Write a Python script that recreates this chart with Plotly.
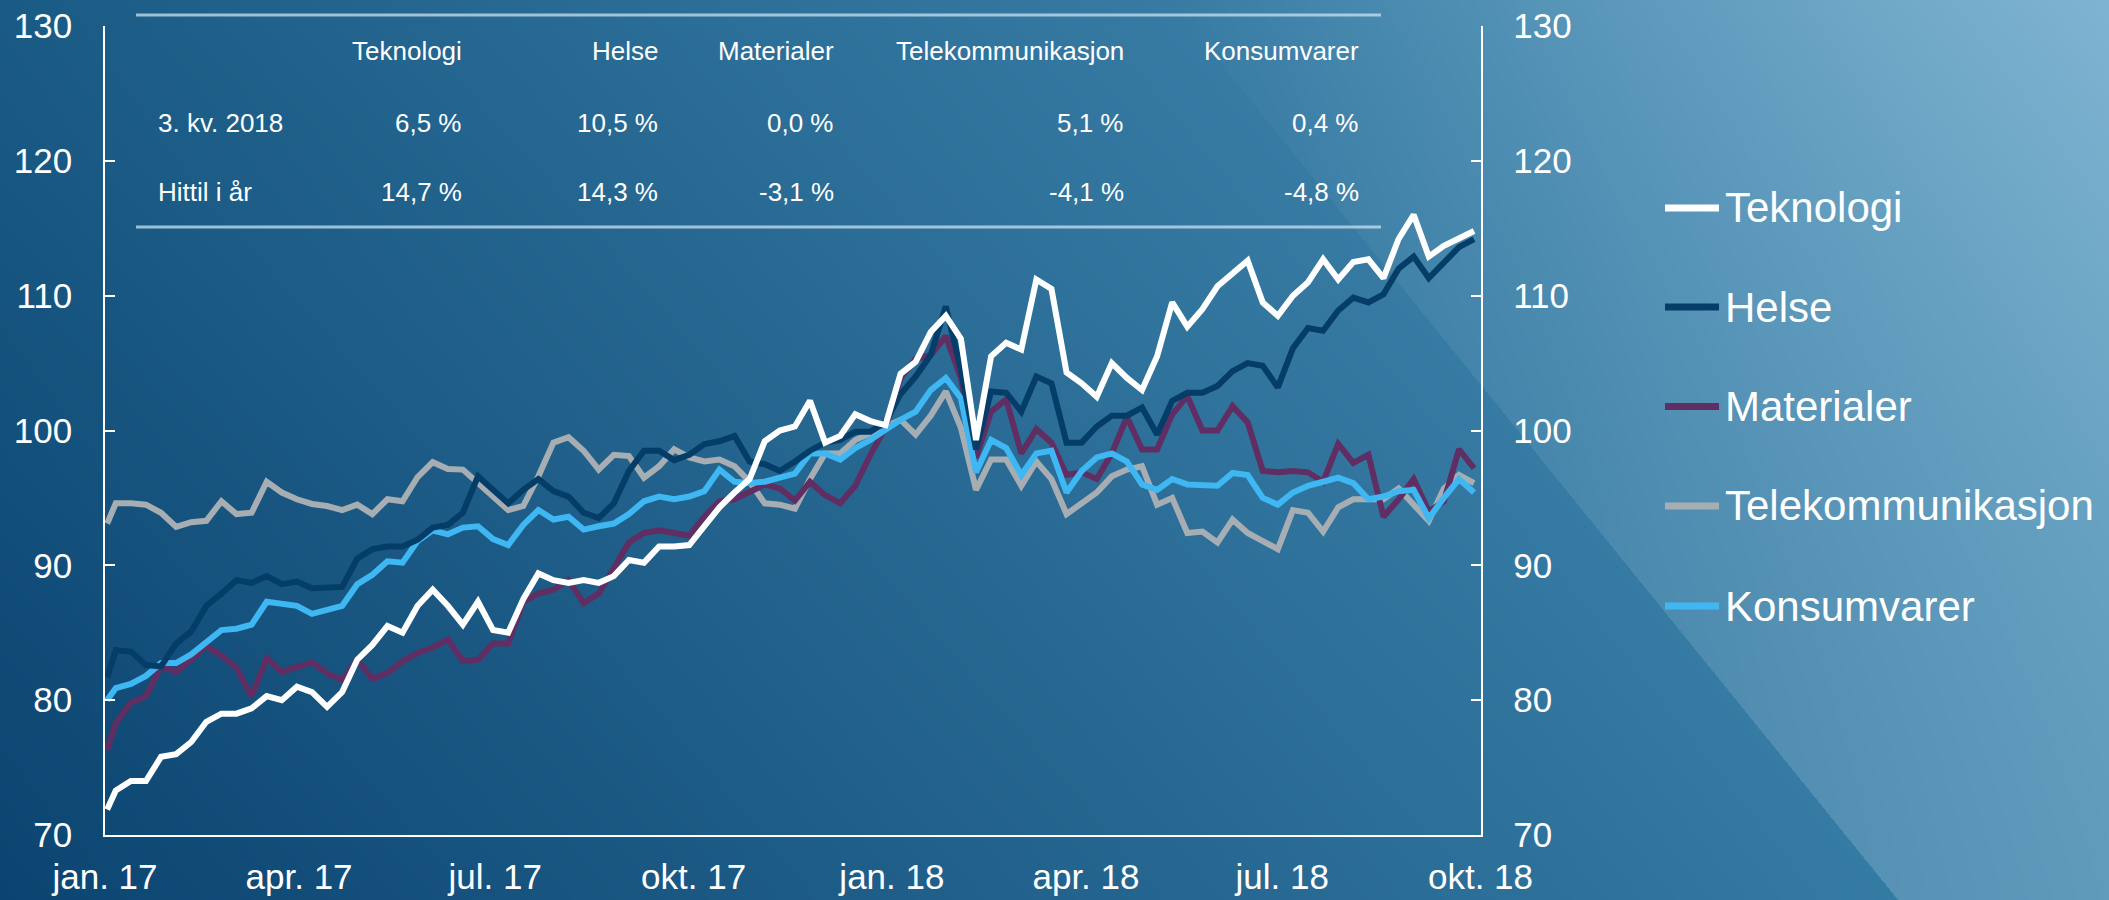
import base64
import struct
import zlib

import numpy as np
import pandas as pd
import plotly.graph_objects as go

# ---------------- data (weekly readings of the index) ----------------
dates = ["2017-01-02"] + [d.strftime("%Y-%m-%d") for d in pd.date_range("2017-01-06", "2018-09-28", freq="7D")]

teknologi = [71.9, 73.3, 74.0, 74.0, 75.8, 76.0, 76.9, 78.4, 79.0, 79.0, 79.4, 80.3, 80.0, 81.0, 80.6, 79.5,
             80.6, 83.0, 84.1, 85.5, 85.0, 87.0, 88.2, 87.0,
             85.6, 87.3, 85.2, 85.0, 87.5, 89.4, 88.9, 88.7, 88.9, 88.7, 89.2, 90.4, 90.2, 91.4, 91.4, 91.5,
             92.9, 94.3, 95.4, 96.4, 99.2, 100.0, 100.3,
             102.2, 99.1, 99.6, 101.2, 100.7, 100.4, 104.2, 105.1, 107.3, 108.5, 106.8, 99.3, 105.5, 106.5,
             106.0, 111.2, 110.5, 104.3, 103.5, 102.5, 105.0, 103.9, 103.0,
             105.5, 109.5, 107.7, 109.0, 110.7, 111.7, 112.6, 109.5, 108.5, 110.0, 111.0, 112.7, 111.2, 112.5,
             112.7, 111.3, 114.2, 116.0, 112.9, 113.7, 114.2, 114.8]

helse = [81.7, 83.7, 83.6, 82.6, 82.5, 84.2, 85.1, 87.0, 87.9, 88.9, 88.7, 89.2, 88.6, 88.8, 88.3, 88.3,
         88.4, 90.5, 91.2, 91.4, 91.4, 91.9, 92.8, 93.0,
         93.9, 96.6, 95.6, 94.6, 95.6, 96.4, 95.5, 95.1, 93.9, 93.5, 94.6, 97.0, 98.5, 98.5, 97.8, 98.2,
         99.0, 99.2, 99.6, 97.7, 97.5, 97.0, 97.7,
         98.5, 99.1, 99.3, 99.9, 99.9, 100.6, 102.7, 104.0, 105.6, 109.2, 104.5, 98.6, 102.9, 102.8,
         101.4, 104.0, 103.5, 99.1, 99.1, 100.3, 101.1, 101.1, 101.7,
         99.7, 102.2, 102.8, 102.8, 103.3, 104.4, 105.0, 104.8, 103.2, 106.1, 107.6, 107.4, 108.9, 109.85,
         109.5, 110.1, 112.0, 112.9, 111.3, 112.45, 113.6, 114.2]

materialer = [76.3, 78.3, 79.8, 80.3, 82.5, 82.1, 83.0, 84.0, 83.3, 82.4, 80.3, 83.1, 82.1, 82.5, 82.8, 82.0,
              81.5, 83.0, 81.6, 82.0, 82.9, 83.5, 83.9, 84.5,
              82.9, 83.0, 84.2, 84.2, 87.3, 87.9, 88.2, 88.9, 87.2, 87.9, 89.9, 91.7, 92.4, 92.6, 92.4, 92.2,
              93.6, 94.75, 94.9, 95.5, 96.0, 95.7, 94.8,
              96.2, 95.2, 94.6, 95.9, 98.2, 100.2, 103.9, 105.3, 105.6, 107.0, 103.9, 98.0, 101.4, 102.3,
              98.3, 100.1, 99.1, 96.7, 96.9, 96.4, 98.3, 101.0, 98.6,
              98.6, 101.2, 102.55, 100.0, 100.0, 101.8, 100.6, 97.0, 96.9, 97.0, 96.9, 96.2, 99.0, 97.6,
              98.2, 93.6, 94.9, 96.4, 94.0, 94.75, 98.6, 97.2]

telekom = [93.1, 94.6, 94.6, 94.5, 93.9, 92.85, 93.2, 93.3, 94.75, 93.8, 93.9, 96.2, 95.4, 94.9, 94.55, 94.4,
           94.1, 94.5, 93.8, 94.9, 94.75, 96.55, 97.65, 97.15,
           97.1, 96.1, 95.0, 94.1, 94.4, 96.6, 99.1, 99.5, 98.5, 97.1, 98.2, 98.1, 96.5, 97.35, 98.6, 98.0,
           97.7, 97.85, 97.35, 96.2, 94.6, 94.5, 94.2,
           96.4, 98.3, 98.3, 99.3, 99.8, 100.2, 100.8, 99.7, 101.1, 102.9, 100.2, 95.6, 97.85, 97.85,
           95.9, 97.7, 96.4, 93.8, 94.6, 95.4, 96.6, 97.1, 97.35,
           94.5, 95.0, 92.4, 92.5, 91.7, 93.4, 92.4, 91.8, 91.2, 94.1, 93.9, 92.5, 94.3, 94.9,
           94.9, 94.9, 95.7, 94.5, 93.3, 95.7, 96.7, 96.1]

konsum = [80.0, 80.9, 81.2, 81.8, 82.75, 82.75, 83.4, 84.35, 85.2, 85.3, 85.6, 87.3, 87.1, 87.0, 86.4, 86.7,
          87.0, 88.6, 89.3, 90.3, 90.2, 91.8, 92.6, 92.3,
          92.8, 92.9, 91.95, 91.5, 93.0, 94.1, 93.4, 93.6, 92.65, 92.9, 93.1, 93.8, 94.75, 95.1, 94.9, 95.1,
          95.5, 97.1, 96.2, 96.1, 96.2, 96.5, 96.8,
          98.3, 98.3, 97.85, 98.7, 99.3, 100.1, 100.8, 101.4, 103.0, 103.9, 102.4, 96.9, 99.3, 98.7,
          96.7, 98.3, 98.5, 95.4, 97.0, 98.0, 98.3, 97.7, 96.0,
          95.6, 96.4, 96.0, 96.0, 95.9, 96.85, 96.7, 95.0, 94.5, 95.4, 95.9, 96.2, 96.5, 96.1,
          94.9, 95.1, 95.5, 95.6, 93.5, 95.0, 96.4, 95.4]

series_names = ["Teknologi", "Helse", "Materialer", "Telekommunikasjon", "Konsumvarer"]
series_values = [teknologi, helse, materialer, telekom, konsum]
series_colors = ["#ffffff", "#033d68", "#612e63", "#a7aeb3", "#3fb7f2"]

table_columns = ["Teknologi", "Helse", "Materialer", "Telekommunikasjon", "Konsumvarer"]
table_row_labels = ["3. kv. 2018", "Hittil i år"]
table_q3 = ["6,5 %", "10,5 %", "0,0 %", "5,1 %", "0,4 %"]
table_ytd = ["14,7 %", "14,3 %", "-3,1 %", "-4,1 %", "-4,8 %"]

x_tickvals = ["2017-01-01", "2017-04-01", "2017-07-01", "2017-10-01",
              "2018-01-01", "2018-04-01", "2018-07-01", "2018-10-01"]
x_ticktext = ["jan. 17", "apr. 17", "jul. 17", "okt. 17", "jan. 18", "apr. 18", "jul. 18", "okt. 18"]
y_tickvals = [70, 80, 90, 100, 110, 120, 130]

for v in series_values:
    assert len(v) == len(dates), (len(v), len(dates))

# ---------------- layout geometry (pixels) ----------------
W, H = 2109, 900
PX_L, PX_R = 105, 1480.5
PX_T, PX_B = 26, 835
FONT = "Arial, 'Liberation Sans', sans-serif"


def px(x):
    return x / W


def py(y):
    return 1 - y / H


# ---------------- background image ----------------
def make_background():
    yy, xx = np.mgrid[0:H, 0:W].astype(np.float64)
    u = xx / (W - 1)
    v = yy / (H - 1)
    TL = np.array([26, 91, 133.0])
    TR = np.array([78, 149, 188.0])
    BL = np.array([11, 68, 112.0])
    BR = np.array([57, 129, 169.0])
    top = TL[None, None, :] * (1 - u)[..., None] + TR[None, None, :] * u[..., None]
    bot = BL[None, None, :] * (1 - u)[..., None] + BR[None, None, :] * u[..., None]
    img = top * (1 - v)[..., None] + bot * v[..., None]
    # light diagonal panel on the right, fading out towards the top of its edge
    edge_x = 1169 + 0.81 * yy
    d = (xx - edge_x) / np.sqrt(1 + 0.81 ** 2)
    frac = np.clip(d / 730.0, 0, 1)
    a_edge = 0.20 * np.clip(yy / 900.0, 0, 1)
    alpha = np.where(d > 0, a_edge + (0.34 - a_edge) * frac, 0.0)
    over = np.array([225, 240, 250.0])
    img = img * (1 - alpha[..., None]) + over[None, None, :] * alpha[..., None]
    arr = np.clip(np.round(img), 0, 255).astype(np.int16)
    flat = arr.reshape(H, W * 3)
    sub = flat.copy()
    sub[:, 3:] = (flat[:, 3:] - flat[:, :-3]) % 256
    sub = sub.astype(np.uint8)
    raw = b"".join(b"\x01" + sub[i].tobytes() for i in range(H))

    def chunk(tag, data):
        c = struct.pack(">I", len(data)) + tag + data
        return c + struct.pack(">I", zlib.crc32(tag + data) & 0xFFFFFFFF)

    png = (b"\x89PNG\r\n\x1a\n"
           + chunk(b"IHDR", struct.pack(">IIBBBBB", W, H, 8, 2, 0, 0, 0))
           + chunk(b"IDAT", zlib.compress(raw, 9))
           + chunk(b"IEND", b""))
    return "data:image/png;base64," + base64.b64encode(png).decode()


bg_uri = make_background()

# ---------------- figure ----------------
fig = go.Figure()

draw_order = [3, 2, 4, 1, 0]  # Telekom, Materialer, Konsum, Helse, Teknologi (top)
for i in draw_order:
    fig.add_trace(go.Scatter(
        x=dates, y=series_values[i], name=series_names[i], mode="lines",
        line=dict(color=series_colors[i], width=6),
        hoverinfo="skip", showlegend=False,
    ))
fig.add_trace(go.Scatter(x=[dates[0]], y=[None], yaxis="y2", showlegend=False, hoverinfo="skip"))

axis_common = dict(
    showgrid=False, zeroline=False, showline=True, linecolor="white", linewidth=1.5, automargin=False,
)
yaxis_common = dict(
    **axis_common,
    range=[70, 130], tickmode="array", tickvals=y_tickvals,
    ticks="inside", ticklen=10, tickcolor="white", tickwidth=1.5,
    tickfont=dict(size=35, color="white", family=FONT),
    ticklabelstandoff=24,
)
fig.update_layout(
    template="none",
    width=W, height=H, autosize=False,
    margin=dict(l=0, r=0, t=0, b=0, pad=0, autoexpand=False),
    paper_bgcolor="#0b4470",
    plot_bgcolor="rgba(0,0,0,0)",
    showlegend=False,
    font=dict(family=FONT, color="white"),
    xaxis=dict(
        **axis_common,
        type="date", domain=[px(PX_L), px(PX_R)],
        range=["2017-01-01", "2018-10-01"],
        tickmode="array", tickvals=x_tickvals, ticktext=x_ticktext,
        ticks="", tickfont=dict(size=35, color="white", family=FONT),
        ticklabelstandoff=10,
    ),
    yaxis=dict(**yaxis_common, domain=[1 - PX_B / H, 1 - PX_T / H]),
    yaxis2=dict(**yaxis_common, overlaying="y", side="right", anchor="x"),
    images=[dict(source=bg_uri, xref="paper", yref="paper", x=0, y=1, sizex=1, sizey=1,
                 xanchor="left", yanchor="top", sizing="stretch", layer="below")],
)

shapes = []
annotations = []

# ---- table ----
TABLE_X0, TABLE_X1 = 136, 1381
for yline in (15, 227):
    shapes.append(dict(type="line", xref="paper", yref="paper", x0=px(TABLE_X0), x1=px(TABLE_X1),
                       y0=py(yline), y1=py(yline), line=dict(color="rgba(200,225,240,0.75)", width=3)))
col_right = [464, 660, 836, 1126, 1361]
row_y = [123, 192]
header_y = 51
for c, name in enumerate(table_columns):
    annotations.append(dict(text=name, x=px(col_right[c]), y=py(header_y), xref="paper", yref="paper",
                            xanchor="right", yanchor="middle", showarrow=False,
                            font=dict(size=26, color="white", family=FONT)))
for r, (lab, vals) in enumerate(zip(table_row_labels, [table_q3, table_ytd])):
    annotations.append(dict(text=lab, x=px(156), y=py(row_y[r]), xref="paper", yref="paper",
                            xanchor="left", yanchor="middle", showarrow=False,
                            font=dict(size=26, color="white", family=FONT)))
    for c, val in enumerate(vals):
        annotations.append(dict(text=val, x=px(col_right[c]), y=py(row_y[r]), xref="paper", yref="paper",
                                xanchor="right", yanchor="middle", showarrow=False,
                                font=dict(size=26, color="white", family=FONT)))

# ---- legend ----
LEG_X0, LEG_X1, LEG_TX = 1665, 1719, 1723
leg_y = [208, 307, 406.5, 506, 606]
for i, name in enumerate(series_names):
    shapes.append(dict(type="line", xref="paper", yref="paper", x0=px(LEG_X0), x1=px(LEG_X1),
                       y0=py(leg_y[i]), y1=py(leg_y[i]), line=dict(color=series_colors[i], width=7)))
    annotations.append(dict(text=name, x=px(LEG_TX), y=py(leg_y[i]), xref="paper", yref="paper",
                            xanchor="left", yanchor="middle", showarrow=False,
                            font=dict(size=42, color="white", family=FONT)))

fig.update_layout(shapes=shapes, annotations=annotations)

fig.write_html("out.html", include_plotlyjs=True, config={"displayModeBar": False},
               post_script="document.body.style.margin='0';document.body.style.overflow='hidden';")
